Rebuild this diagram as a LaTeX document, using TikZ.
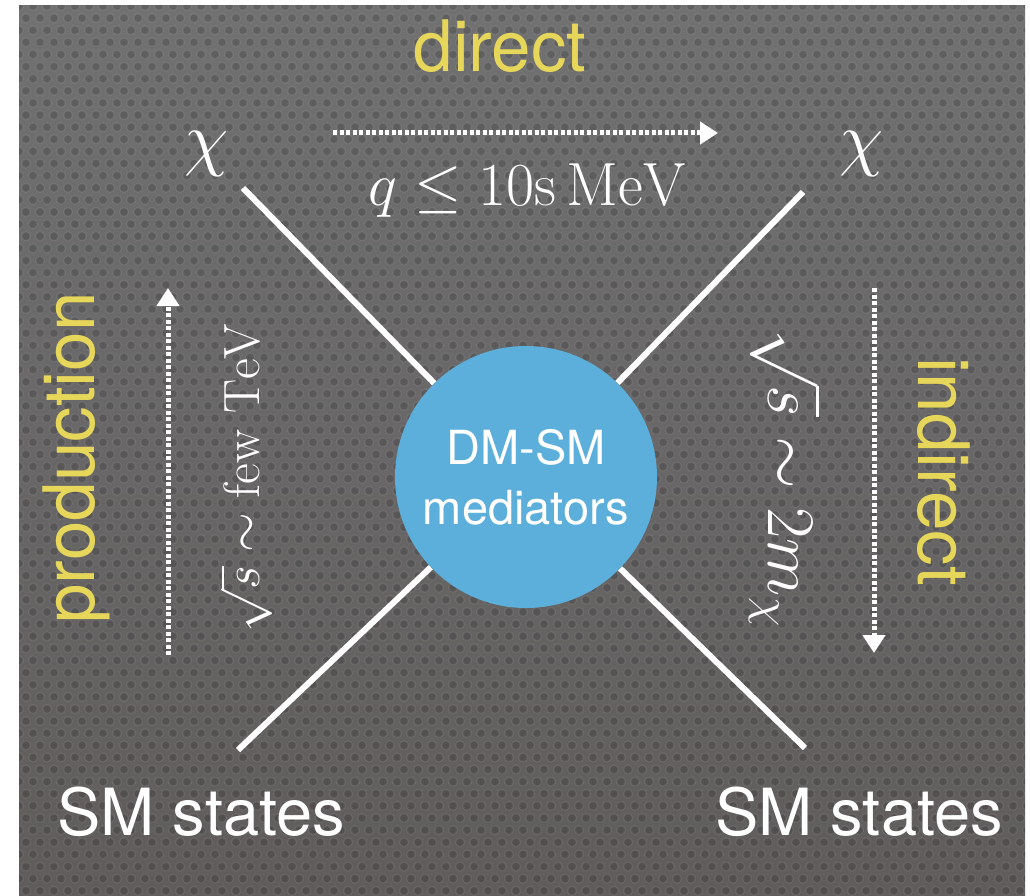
\RequirePackage{fix-cm}
\documentclass[tikz,border=0pt]{standalone}
\usepackage{fontspec}
\usetikzlibrary{arrows.meta}
\newfontfamily\lt{TeX Gyre Heros}
\definecolor{bgA}{HTML}{717171}
\definecolor{bgB}{HTML}{605C5C}
\definecolor{ylw}{HTML}{E6D65A}
\definecolor{medblue}{HTML}{5CAEDB}
\tikzset{
  fermion/.style={draw=white, line width=6pt},
  flow/.style={draw=white, line width=5pt, dash pattern=on 4pt off 2.5pt,
    -{Triangle[width=22pt,length=18pt]}},
  proc/.style={text=ylw, font=\lt\fontsize{71}{80}\selectfont, inner sep=0pt},
  sm/.style={text=white, font=\lt\fontsize{65}{70}\selectfont, inner sep=0pt},
  chilbl/.style={text=white, font=\fontsize{72}{76}\selectfont, inner sep=0pt},
  mathlbl/.style={text=white, font=\fontsize{61}{66}\selectfont, inner sep=0pt},
  med/.style={circle, fill=medblue, minimum size=262pt, inner sep=0pt,
    text=white, align=center, font=\lt\fontsize{47}{60}\selectfont},
  dot/.style={fill=black, fill opacity=0.15, draw=white, draw opacity=0.08, line width=1.4pt}
}
\begin{document}
\begin{tikzpicture}[x=1pt,y=-1pt]
\useasboundingbox (0,0) rectangle (1030,896);
\fill[white] (0,0) rectangle (1030,896);
\shade[top color=bgA, bottom color=bgB] (19,6) rectangle (1025,896);
\begin{scope}
  \clip (19,6) rectangle (1025,896);
  \foreach \j in {0,...,73}{
    \foreach \i in {0,...,72}{
      \path[dot] ({19+\i*14+mod(\j,2)*7},{6+\j*12.12}) circle[radius=4.4];
    }}
\end{scope}

% mediator
\node[med] (med) at (526,477) {DM-SM\\mediators};

% external legs
\node[chilbl] (chiL) at (207,154) {$\chi$};
\node[chilbl] (chiR) at (862,154) {$\chi$};
\node[sm, anchor=base west] (smL) at (57,835) {SM states};
\node[sm, anchor=base east] (smR) at (1003,835) {SM states};

\coordinate (eTL) at (243,188);
\coordinate (eTR) at (803,192);
\coordinate (eBL) at (238,750);
\coordinate (eBR) at (805,748);
\draw[fermion] (eTL) -- (med);
\draw[fermion] (eTR) -- (med);
\draw[fermion] (eBL) -- (med);
\draw[fermion] (eBR) -- (med);

% flow arrows
\coordinate (dA) at (333,133);
\coordinate (dB) at (718,133);
\coordinate (pA) at (168,655);
\coordinate (pB) at (168,288);
\coordinate (iA) at (874,288);
\coordinate (iB) at (874,653);
\draw[flow] (dA) -- (dB);
\draw[flow] (pA) -- (pB);
\draw[flow] (iA) -- (iB);

% labels
\node[proc, anchor=base] (direct) at (500,72) {direct};
\node[proc, rotate=90, anchor=base] (prod) at (94,458) {production};
\node[proc, rotate=-90, anchor=base] (indir) at (918,472) {indirect};
\node[mathlbl, anchor=base] (qlab) at (527,205) {$q \le 10\mathrm{s}\,\mathrm{MeV}$};
\node[mathlbl, font=\fontsize{51}{56}\selectfont, rotate=90] (sL) at (246,478) {$\sqrt{s}\sim\mathrm{few\ TeV}$};
\node[mathlbl, font=\fontsize{68}{74}\selectfont, rotate=-90] (sR) at (785,478) {$\sqrt{s}\sim 2m_\chi$};
\end{tikzpicture}
\end{document}
